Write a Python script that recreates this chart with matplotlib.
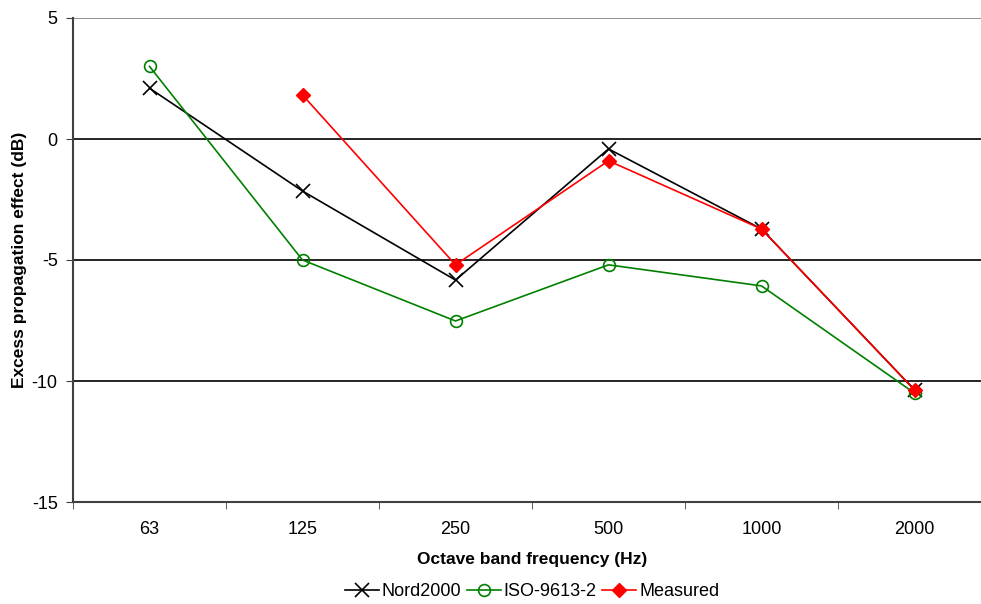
import numpy as np
import matplotlib
matplotlib.use("Agg")
import matplotlib.pyplot as plt

plt.rcParams.update({"font.family": ["Liberation Sans", "DejaVu Sans"], "font.size": 12,
                     "axes.unicode_minus": False})

# ---- data ------------------------------------------------------------------
freqs = ["63", "125", "250", "500", "1000", "2000"]
nord2000 = [2.1, -2.15, -5.83, -0.41, -3.72, -10.37]
iso9613 = [3.0, -5.0, -7.52, -5.2, -6.07, -10.5]
measured = [np.nan, 1.82, -5.2, -0.9, -3.72, -10.37]

W, H = 981, 604
fig = plt.figure(figsize=(W / 100, H / 100), dpi=100)
# plot area runs slightly past the right edge of the picture
ax = fig.add_axes([73 / W, 1 - 502 / H, (991 - 73) / W, (502 - 18) / H])

x = np.arange(len(freqs))
ax.plot(x, nord2000, color="black", lw=1.2, marker="x", ms=10, mew=1.2, label="Nord2000")
ax.plot(x, iso9613, color="#008000", lw=1.2, marker="o", ms=8.5, mfc="none", mew=1.2,
        label="ISO-9613-2")
ax.plot(x, measured, color="red", lw=1.2, marker="D", ms=7, label="Measured")

ax.set_xlim(-0.5, len(freqs) - 0.5)
ax.set_ylim(-15, 5)
ax.set_yticks([-15, -10, -5, 0, 5])
for v in [-10, -5, 0, 5]:
    ax.axhline(v, color="black" if v != 5 else "#808080", lw=1.2, zorder=0)

ax.set_xticks(x)
ax.set_xticklabels(freqs)
ax.set_xticks(np.arange(-0.5, len(freqs), 1.0), minor=True)
ax.tick_params(axis="x", which="major", length=0, pad=14, labelsize=13)
ax.tick_params(axis="x", which="minor", length=5, direction="out", color="#404040")
ax.tick_params(axis="y", length=5, direction="out", color="#404040", labelsize=13, pad=6)

for s in ["top", "right"]:
    ax.spines[s].set_visible(False)
for s in ["left", "bottom"]:
    ax.spines[s].set_color("#404040")
    ax.spines[s].set_linewidth(1.5)

ax.set_xlabel("Octave band frequency (Hz)", fontweight="bold", fontsize=12.5, labelpad=10)
ax.set_ylabel("Excess propagation effect (dB)", fontweight="bold", fontsize=12.5, va="center")
ax.yaxis.set_label_coords((20 - 73) / 918, 0.5)

fig.legend(loc="center", bbox_to_anchor=(532 / W, 1 - 592 / H), ncol=3, frameon=False,
           fontsize=13, handlelength=1.9, handletextpad=0.15, columnspacing=0.3)

fig.savefig("out.png", dpi=100)
